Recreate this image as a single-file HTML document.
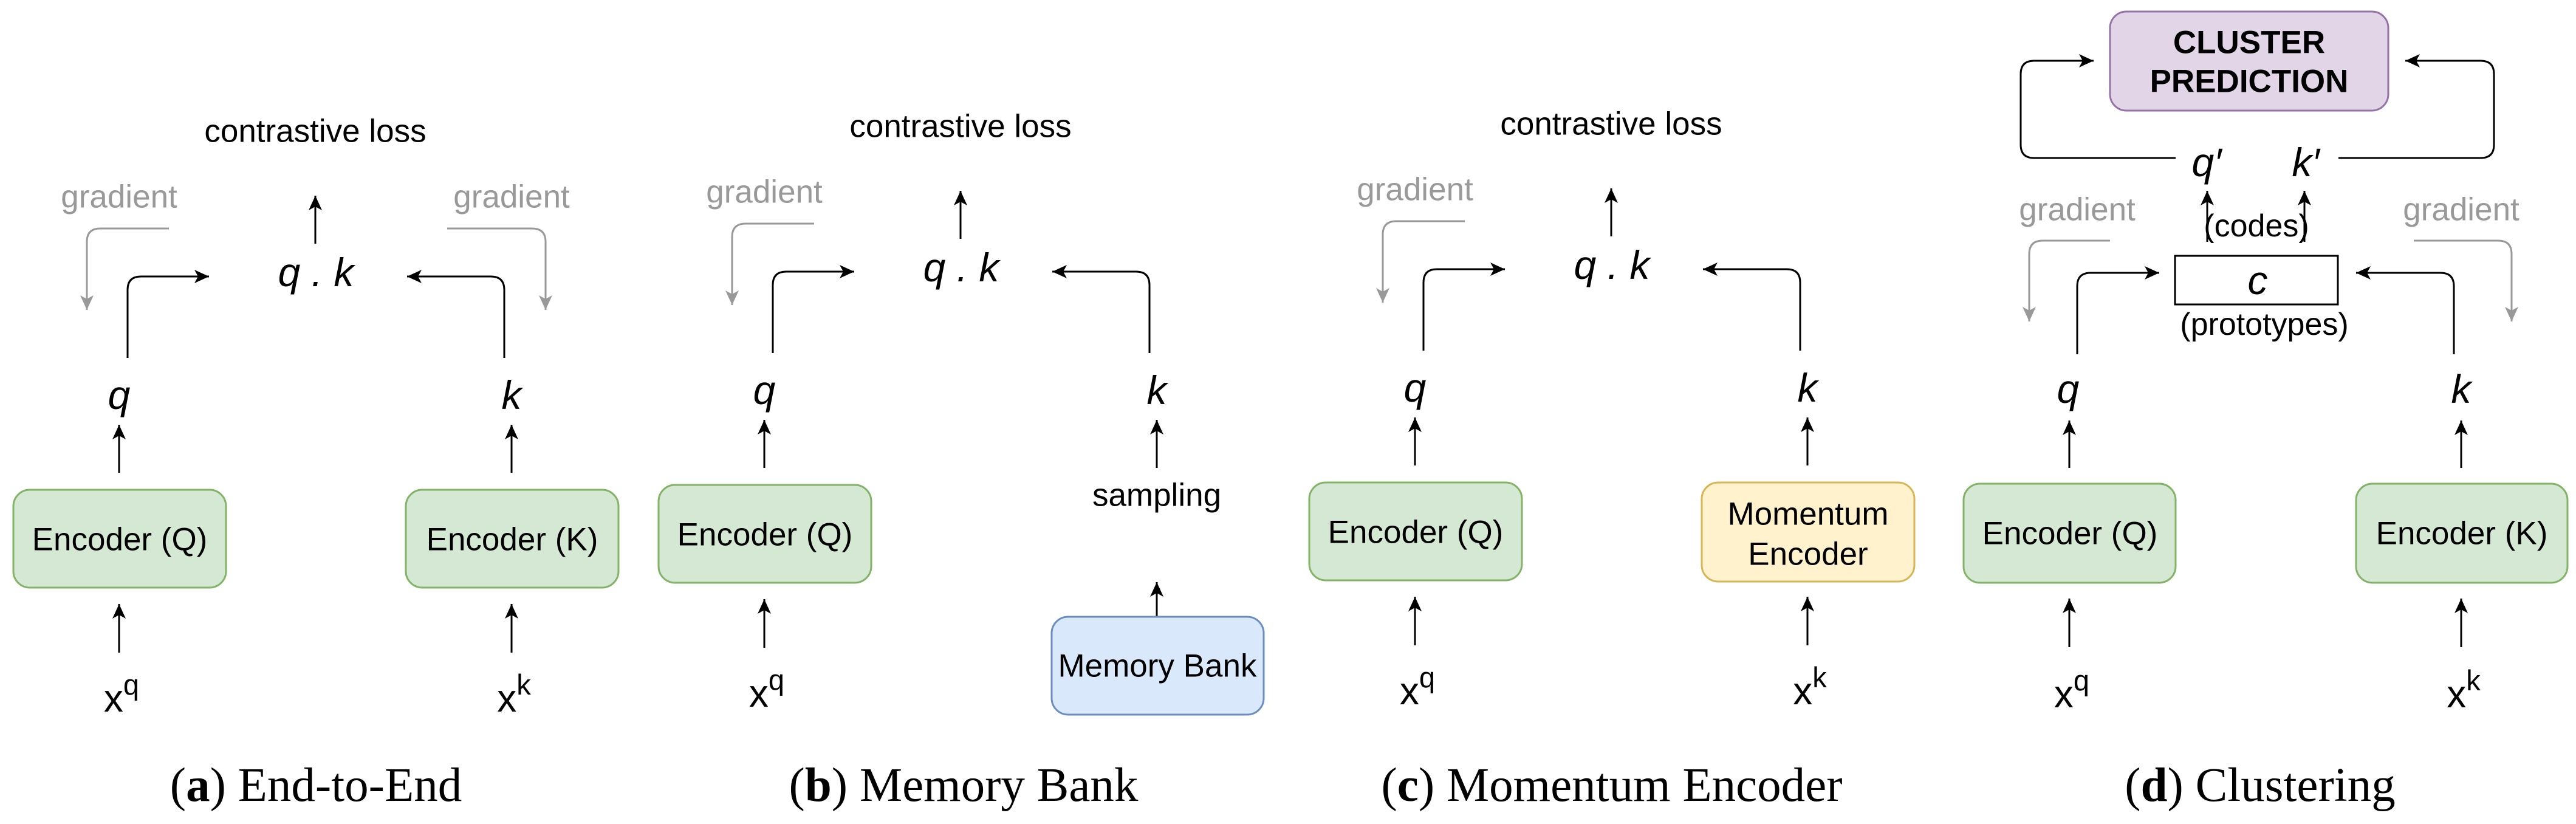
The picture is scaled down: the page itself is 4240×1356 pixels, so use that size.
<!DOCTYPE html>
<html><head><meta charset="utf-8"><style>
html,body{margin:0;padding:0;background:#fff;}
svg{display:block;}
.s{font-family:"Liberation Sans",sans-serif;}
.f{font-size:53px;}
.i{font-style:italic;font-size:66px;}
.g{fill:#999999;}
.cap{font-family:"Liberation Serif",serif;font-size:79px;}
</style></head><body>
<svg width="4240" height="1356" viewBox="0 0 4240 1356" xmlns="http://www.w3.org/2000/svg">
<defs>
<marker id="ab" markerUnits="userSpaceOnUse" markerWidth="26" markerHeight="22" refX="24" refY="11" orient="auto">
<path d="M0,0 L24,11 L0,22 L6,11 z" fill="#000"/></marker>
<marker id="ag" markerUnits="userSpaceOnUse" markerWidth="26" markerHeight="22" refX="24" refY="11" orient="auto">
<path d="M0,0 L24,11 L0,22 L6,11 z" fill="#999"/></marker>
<g id="common">
<text class="s f" x="519" y="216" text-anchor="middle" dominant-baseline="central">contrastive loss</text>
<text class="s f g" x="196" y="324" text-anchor="middle" dominant-baseline="central">gradient</text>
<path d="M519,401 V322" stroke="#000" stroke-width="3" fill="none" marker-end="url(#ab)"/>
<text class="s i" x="520" y="448" text-anchor="middle" dominant-baseline="central">q . k</text>
<path d="M210,589 V477 Q210,455 232,455 H344" stroke="#000" stroke-width="3" fill="none" marker-end="url(#ab)"/>
<path d="M830,589 V477 Q830,455 808,455 H670" stroke="#000" stroke-width="3" fill="none" marker-end="url(#ab)"/>
<path d="M278,376 H165 Q143,376 143,398 V510" stroke="#999" stroke-width="3" fill="none" marker-end="url(#ag)"/>
<text class="s i" x="196" y="650" text-anchor="middle" dominant-baseline="central">q</text>
<text class="s i" x="842" y="650" text-anchor="middle" dominant-baseline="central">k</text>
<path d="M196,778 V699" stroke="#000" stroke-width="3" fill="none" marker-end="url(#ab)"/>
<path d="M842,778 V699" stroke="#000" stroke-width="3" fill="none" marker-end="url(#ab)"/>
<rect x="22" y="806" width="350" height="161" rx="27" fill="#d5e8d4" stroke="#82b366" stroke-width="3"/>
<text class="s f" x="197" y="888" text-anchor="middle" dominant-baseline="central">Encoder (Q)</text>
<path d="M196,1074 V994" stroke="#000" stroke-width="3" fill="none" marker-end="url(#ab)"/>
<text class="s" font-size="64" x="200" y="1171" text-anchor="middle">x<tspan font-size="47" dy="-28">q</tspan></text>
</g>
</defs>

<!-- (a) -->
<use href="#common"/>
<text class="s f g" x="842" y="324" text-anchor="middle" dominant-baseline="central">gradient</text>
<path d="M736,376 H876 Q898,376 898,398 V510" stroke="#999" stroke-width="3" fill="none" marker-end="url(#ag)"/>
<rect x="668" y="806" width="350" height="161" rx="27" fill="#d5e8d4" stroke="#82b366" stroke-width="3"/>
<text class="s f" x="843" y="888" text-anchor="middle" dominant-baseline="central">Encoder (K)</text>
<path d="M842,1074 V994" stroke="#000" stroke-width="3" fill="none" marker-end="url(#ab)"/>
<text class="s" font-size="64" x="846" y="1171" text-anchor="middle">x<tspan font-size="47" dy="-28">k</tspan></text>
<text class="cap" x="520" y="1318" text-anchor="middle">(<tspan font-weight="bold">a</tspan>) End-to-End</text>

<!-- (b) -->
<g transform="translate(1062,-8)">
<use href="#common"/>
<path d="M842,1045 V966" stroke="#000" stroke-width="3" fill="none" marker-end="url(#ab)"/>
<text class="s f" x="842" y="823" text-anchor="middle" dominant-baseline="central">sampling</text>
<rect x="669" y="1023" width="349" height="161" rx="27" fill="#dae8fc" stroke="#6c8ebf" stroke-width="3"/>
<text class="s f" x="843" y="1104" text-anchor="middle" dominant-baseline="central">Memory Bank</text>
</g>
<text class="cap" x="1586" y="1318" text-anchor="middle">(<tspan font-weight="bold">b</tspan>) Memory Bank</text>

<!-- (c) -->
<g transform="translate(2133,-12)">
<use href="#common"/>
<rect x="668" y="806" width="350" height="163" rx="27" fill="#fff2cc" stroke="#d6b656" stroke-width="3"/>
<text class="s f" x="843" y="858" text-anchor="middle" dominant-baseline="central">Momentum</text>
<text class="s f" x="843" y="924" text-anchor="middle" dominant-baseline="central">Encoder</text>
<path d="M842,1074 V994" stroke="#000" stroke-width="3" fill="none" marker-end="url(#ab)"/>
<text class="s" font-size="64" x="846" y="1171" text-anchor="middle">x<tspan font-size="47" dy="-28">k</tspan></text>
</g>
<text class="cap" x="2653" y="1318" text-anchor="middle">(<tspan font-weight="bold">c</tspan>) Momentum Encoder</text>

<!-- (d) -->
<rect x="3473" y="19" width="458" height="163" rx="27" fill="#e1d5e7" stroke="#9673a6" stroke-width="3"/>
<text class="s" font-size="53" font-weight="bold" x="3702" y="70" text-anchor="middle" dominant-baseline="central">CLUSTER</text>
<text class="s" font-size="53" font-weight="bold" x="3702" y="134" text-anchor="middle" dominant-baseline="central">PREDICTION</text>
<path d="M3581,260 H3348 Q3326,260 3326,238 V122 Q3326,100 3348,100 H3446" stroke="#000" stroke-width="3" fill="none" marker-end="url(#ab)"/>
<path d="M3849,260 H4083 Q4105,260 4105,238 V122 Q4105,100 4083,100 H3959" stroke="#000" stroke-width="3" fill="none" marker-end="url(#ab)"/>
<text class="s i" font-size="64" x="3632" y="267" text-anchor="middle" dominant-baseline="central">q′</text>
<text class="s i" font-size="64" x="3795" y="267" text-anchor="middle" dominant-baseline="central">k′</text>
<path d="M3633,398 V314" stroke="#000" stroke-width="3" fill="none" marker-end="url(#ab)"/>
<path d="M3793,398 V314" stroke="#000" stroke-width="3" fill="none" marker-end="url(#ab)"/>
<text class="s" font-size="52" x="3714" y="372" text-anchor="middle" dominant-baseline="central">(codes)</text>
<rect x="3580" y="421" width="268" height="80" fill="#fff" stroke="#000" stroke-width="3"/>
<text class="s i" font-size="64" x="3716" y="461" text-anchor="middle" dominant-baseline="central">c</text>
<text class="s" font-size="52" x="3727" y="534" text-anchor="middle" dominant-baseline="central">(prototypes)</text>
<text class="s f g" x="3419" y="345" text-anchor="middle" dominant-baseline="central">gradient</text>
<text class="s f g" x="4051" y="345" text-anchor="middle" dominant-baseline="central">gradient</text>
<path d="M3473,396 H3362 Q3340,396 3340,418 V529" stroke="#999" stroke-width="3" fill="none" marker-end="url(#ag)"/>
<path d="M3973,396 H4112 Q4134,396 4134,418 V529" stroke="#999" stroke-width="3" fill="none" marker-end="url(#ag)"/>
<path d="M3419,583 V471 Q3419,449 3441,449 H3554" stroke="#000" stroke-width="3" fill="none" marker-end="url(#ab)"/>
<path d="M4039,583 V471 Q4039,449 4017,449 H3878" stroke="#000" stroke-width="3" fill="none" marker-end="url(#ab)"/>
<text class="s i" x="3404" y="640" text-anchor="middle" dominant-baseline="central">q</text>
<text class="s i" x="4051" y="640" text-anchor="middle" dominant-baseline="central">k</text>
<path d="M3406,770 V692" stroke="#000" stroke-width="3" fill="none" marker-end="url(#ab)"/>
<path d="M4051,770 V692" stroke="#000" stroke-width="3" fill="none" marker-end="url(#ab)"/>
<rect x="3232" y="796" width="349" height="163" rx="27" fill="#d5e8d4" stroke="#82b366" stroke-width="3"/>
<text class="s f" x="3407" y="878" text-anchor="middle" dominant-baseline="central">Encoder (Q)</text>
<rect x="3878" y="796" width="348" height="163" rx="27" fill="#d5e8d4" stroke="#82b366" stroke-width="3"/>
<text class="s f" x="4052" y="878" text-anchor="middle" dominant-baseline="central">Encoder (K)</text>
<path d="M3406,1065 V985" stroke="#000" stroke-width="3" fill="none" marker-end="url(#ab)"/>
<path d="M4051,1065 V985" stroke="#000" stroke-width="3" fill="none" marker-end="url(#ab)"/>
<text class="s" font-size="64" x="3410" y="1164" text-anchor="middle">x<tspan font-size="47" dy="-28">q</tspan></text>
<text class="s" font-size="64" x="4055" y="1164" text-anchor="middle">x<tspan font-size="47" dy="-28">k</tspan></text>
<text class="cap" x="3720" y="1318" text-anchor="middle">(<tspan font-weight="bold">d</tspan>) Clustering</text>
</svg>
</body></html>
